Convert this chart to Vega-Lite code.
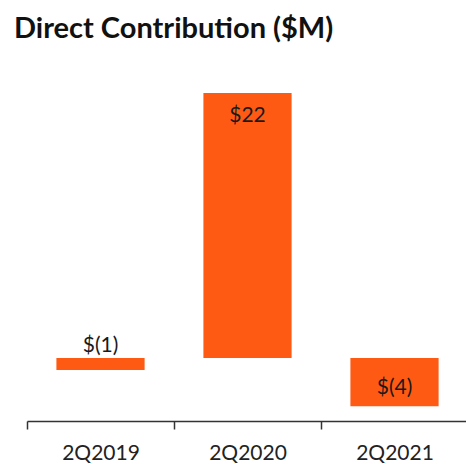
{
  "$schema": "https://vega.github.io/schema/vega-lite/v6.json",
  "autosize": "none",
  "width": 441,
  "height": 328,
  "padding": {"left": 27, "top": 93, "right": -2, "bottom": 43},
  "background": "white",
  "title": {
    "text": "Direct Contribution ($M)",
    "anchor": "start",
    "frame": "group",
    "dx": -13,
    "offset": 49,
    "font": "Lato",
    "fontSize": 29,
    "fontWeight": "bold",
    "color": "#111111"
  },
  "config": {"view": {"stroke": null}},
  "data": {
    "values": [
      {"quarter": "2Q2019", "value": -1, "label": "$(1)"},
      {"quarter": "2Q2020", "value": 22, "label": "$22"},
      {"quarter": "2Q2021", "value": -4, "label": "$(4)"}
    ]
  },
  "encoding": {
    "x": {
      "field": "quarter",
      "type": "nominal",
      "sort": null,
      "scale": {"paddingInner": 0, "paddingOuter": 0},
      "axis": {
        "title": null,
        "labelAngle": 0,
        "tickBand": "extent",
        "domainColor": "#333333",
        "domainWidth": 1.5,
        "tickColor": "#333333",
        "tickWidth": 1.5,
        "tickSize": 8,
        "labelPadding": 13,
        "labelFont": "Lato",
        "labelFontSize": 21,
        "labelColor": "#222222"
      }
    }
  },
  "layer": [
    {
      "mark": {"type": "bar", "color": "#FF5A14", "width": {"band": 0.6}},
      "encoding": {
        "y": {
          "field": "value",
          "type": "quantitative",
          "scale": {"domain": [-5.23, 22], "nice": false, "zero": false},
          "axis": null
        },
        "y2": {"datum": 0}
      }
    },
    {
      "transform": [{"filter": "datum.quarter == '2Q2020'"}],
      "mark": {"type": "text", "font": "Lato", "fontSize": 21, "color": "#1a1a1a", "baseline": "middle", "dy": 23},
      "encoding": {
        "y": {"field": "value", "type": "quantitative"},
        "text": {"field": "label"}
      }
    },
    {
      "transform": [{"filter": "datum.quarter == '2Q2019'"}],
      "mark": {"type": "text", "font": "Lato", "fontSize": 21, "color": "#1a1a1a", "baseline": "middle", "dy": -12},
      "encoding": {
        "y": {"datum": 0, "type": "quantitative"},
        "text": {"field": "label"}
      }
    },
    {
      "transform": [{"filter": "datum.quarter == '2Q2021'"}],
      "mark": {"type": "text", "font": "Lato", "fontSize": 21, "color": "#1a1a1a", "baseline": "middle", "dy": -18},
      "encoding": {
        "y": {"field": "value", "type": "quantitative"},
        "text": {"field": "label"}
      }
    }
  ]
}
